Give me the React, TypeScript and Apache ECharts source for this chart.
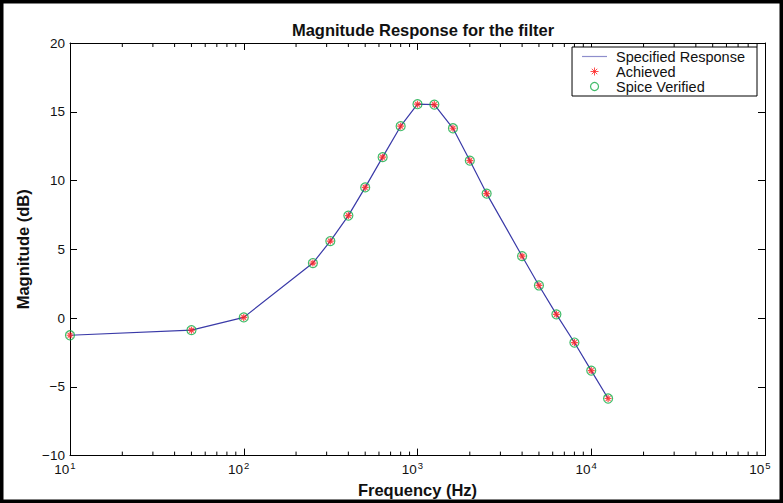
import React, { useEffect, useRef } from "react";
import * as echarts from "echarts";

const freqs = [10, 50, 100, 250, 315, 400, 500, 630, 800, 1000, 1250, 1600, 2000, 2500, 4000, 5000, 6300, 8000, 10000, 12500];
const specified = [-1.25, -0.88, 0.05, 4.0, 5.6, 7.45, 9.5, 11.7, 13.95, 15.55, 15.52, 13.8, 11.45, 9.05, 4.5, 2.37, 0.27, -1.78, -3.82, -5.85];
const achieved = [-1.25, -0.88, 0.05, 4.0, 5.6, 7.45, 9.5, 11.7, 13.95, 15.55, 15.52, 13.8, 11.45, 9.05, 4.5, 2.37, 0.27, -1.78, -3.82, -5.85];
const spice = [-1.25, -0.88, 0.05, 4.0, 5.6, 7.45, 9.5, 11.7, 13.95, 15.55, 15.52, 13.8, 11.45, 9.05, 4.5, 2.37, 0.27, -1.78, -3.82, -5.85];
const minorTicks = [20, 30, 40, 50, 60, 70, 80, 90, 200, 300, 400, 500, 600, 700, 800, 900, 2000, 3000, 4000, 5000, 6000, 7000, 8000, 9000, 20000, 30000, 40000, 50000, 60000, 70000, 80000, 90000];
const seriesNames = ["Specified Response", "Achieved", "Spice Verified"];
const titleText = "Magnitude Response for the filter";
const xLabel = "Frequency (Hz)";
const yLabel = "Magnitude (dB)";

const FONT = "Liberation Sans, Arial, Helvetica, sans-serif";
const STAR = "path://M5,0L5,10M0,5L10,5M1.6,1.6L8.4,8.4M1.6,8.4L8.4,1.6";
const LINE_ICON = "path://M0,0L25,0L25,1.2L0,1.2Z";

export default function App() {
  const ref = useRef<HTMLDivElement>(null);
  useEffect(() => {
    document.body.style.margin = "0";
    const chart = echarts.init(ref.current!, null, { renderer: "svg" });
    const tickLen = 7;
    const minorLen = 4;
    chart.setOption({
      animation: false,
      backgroundColor: "#fff",
      title: {
        text: titleText,
        left: 418,
        textAlign: "center",
        top: 16,
        textStyle: { fontFamily: FONT, fontSize: 16.5, fontWeight: "bold", color: "#111" },
      },
      legend: {
        orient: "vertical",
        right: 26,
        top: 47,
        borderColor: "#000",
        borderWidth: 1,
        backgroundColor: "#fff",
        padding: [2, 12, 2, 10],
        itemGap: 0,
        itemWidth: 25,
        itemHeight: 8,
        symbolKeepAspect: true,
        textStyle: { fontFamily: FONT, fontSize: 14.5, lineHeight: 13.5, color: "#111", padding: [0, 0, 0, 4] },
        data: [
          { name: seriesNames[0], icon: LINE_ICON, itemStyle: { color: "#8e8ecc", borderWidth: 0 } },
          { name: seriesNames[1], icon: STAR, itemStyle: { color: "none", borderColor: "#ff2020", borderWidth: 1 } },
          { name: seriesNames[2], icon: "circle", itemStyle: { color: "none", borderColor: "#11aa44", borderWidth: 1.2 } },
        ],
      },
      grid: { left: 70, right: 18, top: 43, bottom: 46 },
      xAxis: [
        {
          type: "log",
          logBase: 10,
          min: 10,
          max: 100000,
          position: "bottom",
          name: xLabel,
          nameLocation: "middle",
          nameGap: 21,
          nameTextStyle: { fontFamily: FONT, fontSize: 16.5, fontWeight: "bold", color: "#111" },
          axisLine: { onZero: false, lineStyle: { color: "#000", width: 1 } },
          axisTick: { inside: true, length: tickLen, lineStyle: { color: "#000" } },
          splitLine: { show: false },
          axisLabel: {
            showMinLabel: true,
            showMaxLabel: true,
            margin: 5,
            fontFamily: FONT,
            fontSize: 13.5,
            color: "#111",
            padding: [0, 10, 0, 0],
            formatter: (v: number) => "10{sup|" + Math.round(Math.log10(v)) + "}",
            rich: {
              sup: { fontFamily: FONT, fontSize: 9.5, color: "#111", verticalAlign: "top", padding: [0, 0, 7, 1] },
            },
          },
        },
        {
          type: "log",
          logBase: 10,
          min: 10,
          max: 100000,
          position: "top",
          axisLine: { onZero: false, lineStyle: { color: "#000", width: 1 } },
          axisTick: { inside: true, length: tickLen, lineStyle: { color: "#000" } },
          axisLabel: { show: false },
          splitLine: { show: false },
        },
      ],
      yAxis: [
        {
          type: "value",
          min: -10,
          max: 20,
          interval: 5,
          position: "left",
          name: yLabel,
          nameLocation: "middle",
          nameGap: 18,
          nameTextStyle: { fontFamily: FONT, fontSize: 16.5, fontWeight: "bold", color: "#111" },
          axisLine: { show: true, onZero: false, lineStyle: { color: "#000", width: 1 } },
          axisTick: { show: true, inside: true, length: tickLen, lineStyle: { color: "#000" } },
          splitLine: { show: false },
          axisLabel: {
            margin: 5,
            fontFamily: FONT,
            fontSize: 13.5,
            color: "#111",
            formatter: (v: number) => String(v).replace("-", "\u2212"),
          },
        },
        {
          type: "value",
          min: -10,
          max: 20,
          interval: 5,
          position: "right",
          axisLine: { show: true, onZero: false, lineStyle: { color: "#000", width: 1 } },
          axisTick: { show: true, inside: true, length: tickLen, lineStyle: { color: "#000" } },
          splitLine: { show: false },
          axisLabel: { show: false },
        },
      ],
      series: [
        {
          name: "minor",
          type: "custom",
          silent: true,
          xAxisIndex: 0,
          yAxisIndex: 0,
          clip: false,
          data: minorTicks.map((f) => [f, 0]),
          encode: { x: 0, y: 1 },
          renderItem: (params: any, api: any) => {
            const f = api.value(0);
            const b = api.coord([f, -10]);
            const t = api.coord([f, 20]);
            return {
              type: "group",
              children: [
                { type: "line", shape: { x1: b[0], y1: b[1], x2: b[0], y2: b[1] - minorLen }, style: { stroke: "#000", lineWidth: 1 } },
                { type: "line", shape: { x1: t[0], y1: t[1], x2: t[0], y2: t[1] + minorLen }, style: { stroke: "#000", lineWidth: 1 } },
              ],
            };
          },
        },
        {
          name: seriesNames[0],
          type: "line",
          data: freqs.map((f, i) => [f, specified[i]]),
          symbol: "none",
          lineStyle: { color: "#3a3aa8", width: 1.2 },
          itemStyle: { color: "#3a3aa8" },
          z: 2,
        },
        {
          name: seriesNames[2],
          type: "scatter",
          data: freqs.map((f, i) => [f, spice[i]]),
          symbol: "circle",
          symbolSize: 9,
          itemStyle: { color: "none", borderColor: "#11aa44", borderWidth: 1.2 },
          z: 3,
        },
        {
          name: seriesNames[1],
          type: "scatter",
          data: freqs.map((f, i) => [f, achieved[i]]),
          symbol: STAR,
          symbolSize: 7,
          itemStyle: { color: "none", borderColor: "#ff2020", borderWidth: 1.2 },
          z: 4,
        },
      ],
      graphic: [
        {
          type: "rect",
          shape: { x: 1.75, y: 1.75, width: 779.5, height: 499.5 },
          style: { fill: "none", stroke: "#000", lineWidth: 3.5 },
          z: 100,
        },
      ],
    });
    return () => chart.dispose();
  }, []);
  return <div ref={ref} style={{ position: "absolute", left: 0, top: 0, width: 783, height: 503 }} />;
}
